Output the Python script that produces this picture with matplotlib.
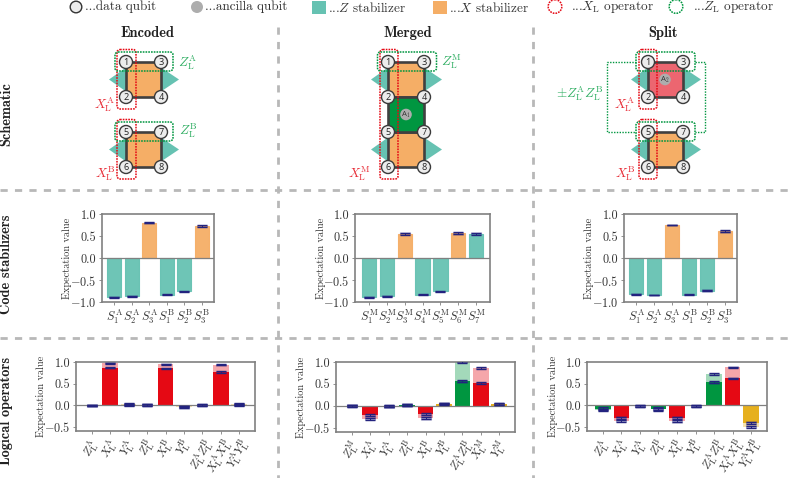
import matplotlib
matplotlib.use('Agg')
from matplotlib import pyplot as plt
from matplotlib.patches import Circle, FancyBboxPatch, Polygon, Rectangle

plt.rcParams['font.family'] = ['cmr10', 'DejaVu Sans']
plt.rcParams['mathtext.fontset'] = 'cm'
plt.rcParams['axes.formatter.use_mathtext'] = True
plt.rcParams['axes.unicode_minus'] = True

W, H = 789, 478

TEAL = '#66c2b2'
ORANGE = '#f5ae66'
GREEN = '#009640'
RED = '#e50914'
YELLOW = '#e6b01e'
NAVY = '#23237f'
DARK = '#404040'
GREY = '#808080'
SEP = '#b8b8b8'
LBL_RED = '#e8303a'
LBL_GREEN = '#2fae62'

# code stabilizers
stab_labels_enc = ['$S_1^{\\rm A}$', '$S_2^{\\rm A}$', '$S_3^{\\rm A}$',
                   '$S_1^{\\rm B}$', '$S_2^{\\rm B}$', '$S_3^{\\rm B}$']
stab_labels_mrg = ['$S_%d^{\\rm M}$' % i for i in range(1, 8)]
stab_enc = [-0.89, -0.87, 0.80, -0.83, -0.76, 0.73]
stab_mrg = [-0.89, -0.87, 0.55, -0.83, -0.76, 0.56, 0.55]
stab_spl = [-0.82, -0.84, 0.75, -0.83, -0.74, 0.61]
stab_err_enc = [0.01, 0.01, 0.01, 0.01, 0.01, 0.015]
stab_err_mrg = [0.01, 0.01, 0.02, 0.01, 0.01, 0.02, 0.02]
stab_err_spl = [0.01, 0.01, 0.01, 0.01, 0.015, 0.025]
stab_type_enc = 'ZZXZZX'
stab_type_mrg = 'ZZXZZXZ'
stab_type_spl = 'ZZXZZX'

# logical operators: raw value and post-selected value
log_labels_enc = ['$Z_{\\rm L}^{\\rm A}$', '$X_{\\rm L}^{\\rm A}$', '$Y_{\\rm L}^{\\rm A}$',
                  '$Z_{\\rm L}^{\\rm B}$', '$X_{\\rm L}^{\\rm B}$', '$Y_{\\rm L}^{\\rm B}$',
                  '$Z_{\\rm L}^{\\rm A}Z_{\\rm L}^{\\rm B}$',
                  '$X_{\\rm L}^{\\rm A}X_{\\rm L}^{\\rm B}$',
                  '$Y_{\\rm L}^{\\rm A}Y_{\\rm L}^{\\rm B}$']
log_labels_mrg = ['$Z_{\\rm L}^{\\rm M}$', '$X_{\\rm L}^{\\rm A}$', '$Y_{\\rm L}^{\\rm A}$',
                  '$Z_{\\rm L}^{\\rm B}$', '$X_{\\rm L}^{\\rm B}$', '$Y_{\\rm L}^{\\rm B}$',
                  '$Z_{\\rm L}^{\\rm A}Z_{\\rm L}^{\\rm B}$',
                  '$X_{\\rm L}^{\\rm M}$', '$Y_{\\rm L}^{\\rm M}$']
log_type = 'ZXYZXYZXY'
log_raw_enc = [-0.01, 0.87, 0.01, 0.0, 0.85, -0.03, 0.0, 0.77, 0.01]
log_post_enc = [-0.01, 0.97, 0.02, 0.01, 0.95, -0.05, 0.0, 0.94, 0.02]
log_raw_mrg = [0.0, -0.22, -0.01, 0.01, -0.19, 0.04, 0.56, 0.52, 0.04]
log_post_mrg = [0.0, -0.30, -0.01, 0.02, -0.28, 0.05, 1.0, 0.86, 0.04]
log_raw_spl = [-0.08, -0.29, -0.02, -0.08, -0.29, -0.02, 0.53, 0.62, -0.41]
log_post_spl = [-0.11, -0.36, -0.02, -0.10, -0.37, -0.02, 0.72, 0.88, -0.50]
log_err_enc = [0.02, 0.012, 0.02, 0.02, 0.012, 0.02, 0.02, 0.015, 0.025]
log_err_mrg = [0.025, 0.025, 0.02, 0.025, 0.025, 0.02, 0.02, 0.015, 0.02]
log_err_spl = [0.025, 0.025, 0.02, 0.025, 0.025, 0.02, 0.02, 0.015, 0.025]

COLS = {'Z': GREEN, 'X': RED, 'Y': YELLOW}


def new_axes(x0, y0, x1, y1):
    ax = fig.add_axes([x0 / W, 1 - y1 / H, (x1 - x0) / W, (y1 - y0) / H])
    for s in ax.spines.values():
        s.set_color(GREY)
        s.set_linewidth(1.2)
    ax.tick_params(colors='#333333', color=GREY, width=0.6, length=2.5, pad=1.5)
    ax.axhline(0, color=GREY, lw=0.9, zorder=4)
    ax.set_ylabel('Expectation value', fontsize=7.4, color='#333333')
    ax.yaxis.set_label_coords(-29.5 / (x1 - x0), 0.5)
    return ax


def draw_err(ax, xs, ys, err, capsize=3.4):
    # faint band + capped navy bar
    ax.errorbar(xs, ys, yerr=[e + 0.01 for e in err], fmt='none', ecolor=NAVY, alpha=0.35,
                elinewidth=8, zorder=5)
    ax.errorbar(xs, ys, yerr=err, fmt='none', ecolor=NAVY, elinewidth=0.7,
                capsize=capsize, capthick=1.0, zorder=6)


def stab_panel(box, vals, err, types, labels, pad=0.7):
    ax = new_axes(*box)
    xs = list(range(len(vals)))
    cols = [TEAL if t == 'Z' else ORANGE for t in types]
    ax.bar(xs, vals, width=0.8, color=cols, edgecolor=cols, lw=0.8, alpha=0.95, zorder=3)
    draw_err(ax, xs, vals, err)
    ax.set_xlim(-pad, len(vals) - 1 + pad)
    ax.set_ylim(-1, 1)
    ax.set_yticks([-1, -0.5, 0, 0.5, 1])
    ax.set_yticklabels(['$\\mathdefault{-1.0}$', '$\\mathdefault{-0.5}$', '0.0', '0.5', '1.0'], fontsize=8.8)
    ax.set_xticks(xs)
    ax.set_xticklabels(labels, fontsize=8.8)
    return ax


def log_panel(box, raw, post, err, labels):
    ax = new_axes(*box)
    xs = list(range(len(raw)))
    cols = [COLS[t] for t in log_type]
    ax.bar(xs, post, width=0.85, color=cols, alpha=0.36, lw=0, zorder=2)
    ax.bar(xs, raw, width=0.85, color=cols, lw=0, zorder=3)
    draw_err(ax, xs, raw, err)
    draw_err(ax, xs, post, err)
    ax.set_xlim(-0.86, len(raw) - 1 + 0.86)
    ax.set_ylim(-0.6, 1)
    ax.set_yticks([-0.5, 0, 0.5, 1])
    ax.set_yticklabels(['$\\mathdefault{-0.5}$', '0.0', '0.5', '1.0'], fontsize=8.8)
    ax.set_xticks(xs)
    ax.set_xticklabels(labels, fontsize=8.6, rotation=60, ha='center')
    return ax


fig = plt.figure(figsize=(W / 100, H / 100), dpi=100)

# overlay in pixel coordinates for the schematic
bg = fig.add_axes([0, 0, 1, 1], zorder=0)
bg.set_xlim(0, W)
bg.set_ylim(H, 0)
bg.axis('off')

sep_style = dict(color=SEP, lw=2.0, dashes=(2.6, 2.6))
for x in [278.5, 533]:
    bg.plot([x, x], [27, H], **sep_style)
for y in [189.5, 337.5]:
    bg.plot([0, W], [y, y], **sep_style)


def rbox(x0, y0, x1, y1, col, ls=(0, (1.1, 0.7)), lw=1.1):
    bg.add_patch(FancyBboxPatch((x0 + 3, y0 + 3), x1 - x0 - 6, y1 - y0 - 6, boxstyle='round,pad=3,rounding_size=3',
                                fc='none', ec=col, lw=lw, ls=ls, zorder=8))


def qubit(x, y, num, r=6.5):
    bg.add_patch(Circle((x, y), r, fc='#ececec', ec='#3a3a3a', lw=1.0, zorder=6))
    bg.text(x, y + 0.2, str(num), family='Open Sans', fontsize=6.6, color='#222222',
            ha='center', va='center', zorder=7)


def tri(xl, xr, yc):
    bg.add_patch(Polygon([(xl, yc - 12), (xl - 17, yc), (xl, yc + 12)], fc=TEAL, ec='none', zorder=1))
    bg.add_patch(Polygon([(xr, yc - 12), (xr + 18, yc), (xr, yc + 12)], fc=TEAL, ec='none', zorder=1))


def square(xl, xr, yt, yb, col):
    bg.add_patch(Rectangle((xl, yt), xr - xl, yb - yt, fc=col, ec=DARK, lw=1.9, zorder=3))


def ancilla(x, y, name, sub):
    bg.add_patch(Circle((x, y), 5.8, fc='#adadad', ec='none', zorder=5))
    bg.text(x, y, name + '$_{' + sub + '}$', family='Open Sans', fontsize=5.6, color='#333333',
            ha='center', va='center', zorder=7)


def lab(x, y, s, col, size=9.5):
    bg.text(x, y, s, color=col, fontsize=size, ha='center', va='center', zorder=9)


# Encoded
xl, xr = 126, 161
tri(xl, xr, 79.5)
tri(xl, xr, 149.5)
square(xl, xr, 62, 97, ORANGE)
square(xl, xr, 132, 167, ORANGE)
for (x, y, n) in [(xl, 62, 1), (xr, 62, 3), (xl, 97, 2), (xr, 97, 4), (xl, 132, 5), (xr, 132, 7), (xl, 167, 6), (xr, 167, 8)]:
    qubit(x, y, n)
rbox(117, 49.5, 136, 109, RED)
rbox(117, 119.5, 136, 179, RED)
rbox(115, 52, 173, 71, GREEN)
rbox(115, 122, 173, 141, GREEN)
lab(188, 63, '$Z_{\\rm L}^{\\rm A}$', LBL_GREEN)
lab(188, 131, '$Z_{\\rm L}^{\\rm B}$', LBL_GREEN)
lab(105, 105, '$X_{\\rm L}^{\\rm A}$', LBL_RED)
lab(105, 174, '$X_{\\rm L}^{\\rm B}$', LBL_RED)

# Merged
xl, xr = 388, 424
tri(xl, xr, 79.5)
tri(xl, xr, 149.5)
square(xl, xr, 62, 97, ORANGE)
square(xl, xr, 132, 167, ORANGE)
square(xl, xr, 97, 132, GREEN)
ancilla(406, 114.5, 'A', '1')
for (x, y, n) in [(xl, 62, 1), (xr, 62, 3), (xl, 97, 2), (xr, 97, 4), (xl, 132, 5), (xr, 132, 7), (xl, 167, 6), (xr, 167, 8)]:
    qubit(x, y, n)
rbox(380, 49.5, 398, 179, RED)
rbox(377.5, 52, 436.5, 71, GREEN)
lab(451, 62, '$Z_{\\rm L}^{\\rm M}$', LBL_GREEN)
lab(359, 174, '$X_{\\rm L}^{\\rm M}$', LBL_RED)

# Split
xl, xr = 648, 683
tri(xl, xr, 79.5)
tri(xl, xr, 149.5)
square(xl, xr, 62, 97, '#ec6670')
square(xl, xr, 132, 167, ORANGE)
ancilla(665, 79.5, 'A', '2')
for (x, y, n) in [(xl, 62, 1), (xr, 62, 3), (xl, 97, 2), (xr, 97, 4), (xl, 132, 5), (xr, 132, 7), (xl, 167, 6), (xr, 167, 8)]:
    qubit(x, y, n)
rbox(639, 49.5, 657, 109, RED)
rbox(639, 119.5, 657, 179, RED)
rbox(636, 52, 695, 71, GREEN)
rbox(636, 122, 695, 141, GREEN)
dots = dict(color=GREEN, lw=1.0, ls=(0, (1, 1)), zorder=8)
bg.plot([636, 607, 607, 636], [62, 62, 132, 132], **dots)
bg.plot([695, 705, 705, 695], [62, 62, 132, 132], **dots)
lab(580, 94, '$\\pm Z_{\\rm L}^{\\rm A}Z_{\\rm L}^{\\rm B}$', LBL_GREEN)
lab(625, 105, '$X_{\\rm L}^{\\rm A}$', LBL_RED)
lab(625, 174, '$X_{\\rm L}^{\\rm B}$', LBL_RED)

# column and row titles
for x, t in [(147, 'Encoded'), (408, 'Merged'), (663, 'Split')]:
    bg.text(x, 33, t, family='cmb10', fontsize=10.4, ha='center', va='center', color='#222222')
for y, t in [(114, 'Schematic'), (264, 'Code stabilizers'), (411, 'Logical operators')]:
    bg.text(6, y, t, family='cmb10', fontsize=10.3, rotation=90, ha='center', va='center', color='#222222')

# legend strip
leg = dict(fontsize=9.5, va='center', ha='left', color='#333333')
bg.add_patch(Circle((76, 7), 5.8, fc='#ececec', ec='#333333', lw=1.0))
bg.text(85, 7, '...data qubit', **leg)
bg.add_patch(Circle((197, 7), 6, fc='#adadad', ec='none'))
bg.text(205, 7, '...ancilla qubit', **leg)
bg.add_patch(Rectangle((312, 1), 14, 13, fc=TEAL, ec='none'))
bg.text(328, 8, '...$Z$ stabilizer', **leg)
bg.add_patch(Rectangle((433, 1), 14, 13, fc=ORANGE, ec='none'))
bg.text(449, 8, '...$X$ stabilizer', **leg)
bg.add_patch(Circle((555, 6.5), 6.8, fc='none', ec=RED, lw=1.1, ls=(0, (1.1, 0.7))))
bg.text(571, 7, '...$X_{\\rm L}$ operator', **leg)
bg.add_patch(Circle((676, 6.5), 6.8, fc='none', ec=GREEN, lw=1.1, ls=(0, (1.1, 0.7))))
bg.text(693, 7, '...$Z_{\\rm L}$ operator', **leg)

stab_panel((102, 214, 214, 302), stab_enc, stab_err_enc, stab_type_enc, stab_labels_enc)
stab_panel((355, 214, 490, 302), stab_mrg, stab_err_mrg, stab_type_mrg, stab_labels_mrg, pad=0.78)
stab_panel((624, 214, 737, 302), stab_spl, stab_err_spl, stab_type_spl, stab_labels_enc)

log_panel((76, 362, 255, 431), log_raw_enc, log_post_enc, log_err_enc, log_labels_enc)
log_panel((336, 362, 515, 432), log_raw_mrg, log_post_mrg, log_err_mrg, log_labels_mrg)
log_panel((587, 362, 767, 431), log_raw_spl, log_post_spl, log_err_spl, log_labels_enc)

fig.savefig('out.png', dpi=100)
